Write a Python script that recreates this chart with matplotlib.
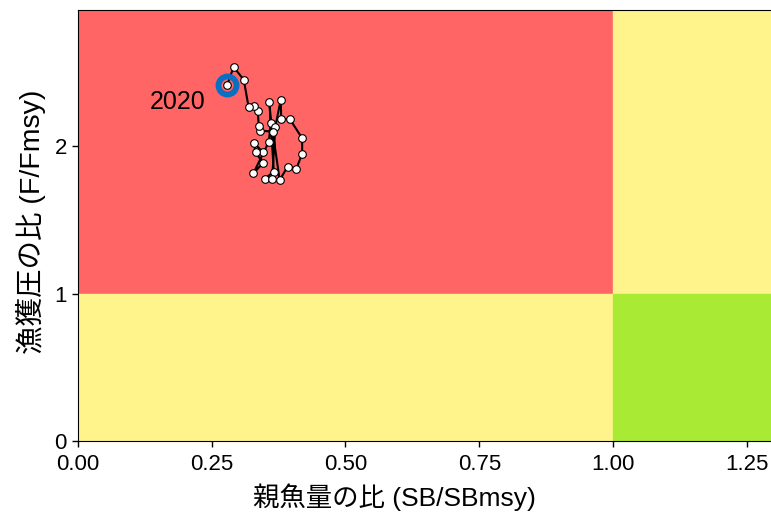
import matplotlib.pyplot as plt
from matplotlib.patches import Rectangle

plt.rcParams['font.family'] = ['Liberation Sans', 'Noto Sans CJK JP']

# SB/SBmsy and F/Fmsy by year, 1992-2020
years = list(range(1992, 2021))
sb_ratio = [0.345, 0.329, 0.332, 0.346, 0.328, 0.357, 0.360, 0.358, 0.366, 0.349,
            0.363, 0.369, 0.379, 0.380, 0.396, 0.419, 0.419, 0.408, 0.392, 0.377,
            0.364, 0.341, 0.338, 0.336, 0.330, 0.319, 0.310, 0.291, 0.279]
f_ratio = [1.961, 2.018, 1.957, 1.883, 1.815, 2.029, 2.154, 2.300, 1.826, 1.776,
           1.776, 2.131, 2.312, 2.181, 2.181, 2.052, 1.946, 1.844, 1.860, 1.769,
           2.097, 2.102, 2.136, 2.237, 2.273, 2.262, 2.447, 2.534, 2.414]

x_max, y_max = 1.295, 2.92
red, yellow, green = '#FF6565', '#FFF48C', '#A9EA34'

fig = plt.figure(figsize=(7.71, 5.13), dpi=100)
ax = fig.add_axes([0.101, 0.140, 0.899, 0.8405])

# Kobe plot zones
ax.add_patch(Rectangle((0, 1), 1, y_max - 1, color=red, zorder=0))
ax.add_patch(Rectangle((0, 0), 1, 1, color=yellow, zorder=0))
ax.add_patch(Rectangle((1, 1), x_max - 1, y_max - 1, color=yellow, zorder=0))
ax.add_patch(Rectangle((1, 0), x_max - 1, 1, color=green, zorder=0))

ax.plot(sb_ratio, f_ratio, '-', color='black', lw=1.5, zorder=2)
ax.plot(sb_ratio, f_ratio, 'o', ms=5.5, mfc='white', mec='black', mew=0.8, zorder=3)
ax.plot(sb_ratio[-1], f_ratio[-1], 'o', ms=13, mfc='none', mec='#0A6FC2', mew=4.2, zorder=4)
ax.text(sb_ratio[-1] - 0.04, f_ratio[-1] - 0.12, str(years[-1]), fontsize=18,
        ha='right', va='center')

ax.set_xlim(0, x_max)
ax.set_ylim(0, y_max)
ax.set_xticks([0, 0.25, 0.5, 0.75, 1.0, 1.25])
ax.set_xticklabels(['0.00', '0.25', '0.50', '0.75', '1.00', '1.25'])
ax.set_yticks([0, 1, 2])
ax.tick_params(labelsize=16, length=4, width=1)
ax.tick_params(axis='x', pad=5)
ax.tick_params(axis='y', pad=4)
ax.set_xlabel('親魚量の比 (SB/SBmsy)', fontsize=19, va='center')
ax.set_ylabel('漁獲圧の比 (F/Fmsy)', fontsize=20.5, va='center')
ax.xaxis.set_label_coords(0.457, -0.130)
ax.yaxis.set_label_coords(-0.068, 0.508)
ax.spines['right'].set_visible(False)

fig.savefig('out.png', dpi=100)
